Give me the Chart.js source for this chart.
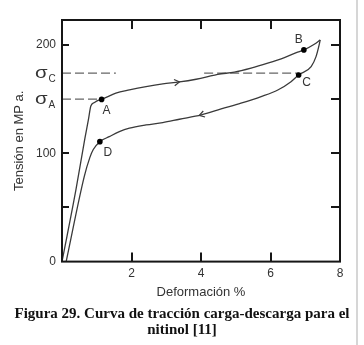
<!DOCTYPE html>
<html><head><meta charset="utf-8">
<script src="https://cdn.jsdelivr.net/npm/chart.js@4.4.1/dist/chart.umd.min.js"></script>
<style>html,body{margin:0;padding:0;background:#fff;overflow:hidden}</style>
</head><body>
<canvas id="c" width="364" height="345"></canvas>
<script>
// ---- data ----
const loadingX = [0, 0.40, 0.66, 0.76, 0.83, 0.935, 1.04, 1.14, 1.55, 1.94, 2.42, 2.90, 3.38, 3.86, 4.14, 4.48, 4.96, 5.44, 5.92, 6.40, 6.78, 6.96, 7.26, 7.43];
const loadingY = [0, 66.1, 114, 131, 143.7, 146.9, 148.8, 149.7, 155.4, 158.4, 161.5, 164, 165.8, 168.3, 170.2, 172.9, 174.8, 178.5, 183.1, 188.3, 193.3, 195.4, 200.6, 204.6];
const unloadX = [7.43, 7.40, 7.31, 7.17, 6.81, 6.59, 6.21, 5.73, 5.15, 4.58, 4.01, 3.38, 2.90, 2.42, 1.94, 1.65, 1.36, 1.09, 0.90, 0.80, 0.64, 0.12];
const unloadY = [204.6, 200, 189.2, 180, 172.3, 166.1, 158.4, 152.3, 146.2, 140.9, 135.4, 131.4, 128.3, 126.1, 123.1, 119.9, 115.3, 110.7, 103.5, 96, 78.4, 0];
const pointNames = ['A', 'B', 'C', 'D'];
const pointX = [1.14, 6.96, 6.81, 1.09];
const pointY = [149.7, 195.4, 172.3, 110.7];
const sigmaA = 150;
const sigmaC = 174;
const sigmaCSegments = [[0, 1.55], [4.09, 6.81]];
const xTickValues = [0, 2, 4, 6, 8];
const xFrameTicks = [2, 4, 6];
const yTickValues = [0, 100, 150, 174, 200];
const yLabelValues = [0, 100, 200];
const yLeftMarks = [50, 100, 200];
const yRightMarks = [50, 100, 150, 200];
const sigmaLabels = [{v: sigmaC, sub: 'C'}, {v: sigmaA, sub: 'A'}];
const arrowMarks = [{from: [2.90, 164], to: [3.38, 165.8]}, {from: [4.58, 140.9], to: [3.95, 134.9]}];
const xTitle = 'Deformación %';
const yTitle = 'Tensión en MP a.';
const caption = ['Figura 29. Curva de tracción carga-descarga para el', 'nitinol [11]'];

// ---- styles ----
const LINE = '#3a3a3a';
const TXT = '#333';
const SANS = '"Liberation Sans", Arial, sans-serif';
const labelOffsets = {A: [5, 11], B: [-5, -10], C: [8, 8], D: [8, 11]};

const pts = (xs, ys) => xs.map((x, i) => ({x, y: ys[i]}));
const sigmaCData = [];
sigmaCSegments.forEach((s, i) => {
  if (i > 0) sigmaCData.push({x: (sigmaCSegments[i-1][1] + s[0]) / 2, y: null});
  sigmaCData.push({x: s[0], y: sigmaC}, {x: s[1], y: sigmaC});
});

const decor = {
  id: 'decor',
  beforeDraw(chart) {
    const ctx = chart.ctx;
    ctx.save();
    ctx.fillStyle = '#fff';
    ctx.fillRect(0, 0, chart.width, chart.height);
    ctx.fillStyle = '#d6d6d6';
    ctx.fillRect(356, 0, 2, chart.height);
    ctx.restore();
  },
  afterDatasetsDraw(chart) {
    const {ctx, chartArea: a, scales: {x, y}} = chart;
    ctx.save();
    ctx.strokeStyle = '#161616';
    ctx.lineWidth = 2;
    ctx.strokeRect(a.left, a.top, a.right - a.left, a.bottom - a.top);
    ctx.beginPath();
    xFrameTicks.forEach(v => {
      const px = Math.round(x.getPixelForValue(v));
      ctx.moveTo(px, a.bottom); ctx.lineTo(px, a.bottom - 9);
      ctx.moveTo(px, a.top); ctx.lineTo(px, a.top + 9);
    });
    yLeftMarks.forEach(v => {
      const py = Math.round(y.getPixelForValue(v));
      ctx.moveTo(a.left, py); ctx.lineTo(a.left + 7, py);
    });
    yRightMarks.forEach(v => {
      const py = Math.round(y.getPixelForValue(v));
      ctx.moveTo(a.right, py); ctx.lineTo(a.right - 9, py);
    });
    ctx.stroke();

    // sigma labels on the y axis
    ctx.fillStyle = TXT;
    ctx.textAlign = 'left';
    ctx.textBaseline = 'alphabetic';
    sigmaLabels.forEach(s => {
      const py = y.getPixelForValue(s.v);
      ctx.save();
      ctx.translate(35, py + 4.5);
      ctx.scale(1.2, 1);
      ctx.font = '17px ' + SANS;
      ctx.fillText('σ', 0, 0);
      ctx.restore();
      ctx.font = '10px ' + SANS;
      ctx.fillText(s.sub, 48.5, py + 8.5);
    });

    // point labels
    ctx.font = '12px ' + SANS;
    ctx.textAlign = 'center';
    ctx.textBaseline = 'middle';
    pointNames.forEach((n, i) => {
      const o = labelOffsets[n];
      ctx.fillText(n, x.getPixelForValue(pointX[i]) + o[0], y.getPixelForValue(pointY[i]) + o[1]);
    });

    // direction arrows
    ctx.strokeStyle = LINE;
    ctx.lineWidth = 1.2;
    arrowMarks.forEach(m => {
      const x0 = x.getPixelForValue(m.from[0]), y0 = y.getPixelForValue(m.from[1]);
      const x1 = x.getPixelForValue(m.to[0]), y1 = y.getPixelForValue(m.to[1]);
      const ang = Math.atan2(y1 - y0, x1 - x0);
      const L = 6, h = 0.55;
      ctx.beginPath();
      ctx.moveTo(x1 - L * Math.cos(ang - h), y1 - L * Math.sin(ang - h));
      ctx.lineTo(x1, y1);
      ctx.lineTo(x1 - L * Math.cos(ang + h), y1 - L * Math.sin(ang + h));
      ctx.stroke();
    });
    ctx.restore();
  }
};

new Chart(document.getElementById('c'), {
  type: 'line',
  data: {
    datasets: [
      {label: 'points', data: pts(pointX, pointY), showLine: false, pointRadius: 2.8, pointBackgroundColor: '#000', pointBorderColor: '#000', pointBorderWidth: 0},
      {label: 'carga', data: pts(loadingX, loadingY), borderColor: LINE, borderWidth: 1.3, pointRadius: 0, cubicInterpolationMode: 'monotone', fill: false},
      {label: 'descarga', data: pts(unloadX, unloadY), borderColor: LINE, borderWidth: 1.3, pointRadius: 0, cubicInterpolationMode: 'monotone', fill: false},
      {label: 'sigmaA', data: [{x: 0, y: sigmaA}, {x: pointX[0], y: sigmaA}], borderColor: '#666', borderWidth: 1.2, borderDash: [9, 4], pointRadius: 0, tension: 0},
      {label: 'sigmaC', data: sigmaCData, borderColor: '#666', borderWidth: 1.2, borderDash: [9, 4], pointRadius: 0, tension: 0, spanGaps: false}
    ]
  },
  options: {
    responsive: false,
    animation: false,
    events: [],
    devicePixelRatio: 1,
    layout: {padding: {top: 20, left: 0, right: 0, bottom: 0}},
    plugins: {
      legend: {display: false},
      tooltip: {enabled: false},
      title: {
        display: true, position: 'bottom', text: caption, color: '#111',
        font: {family: '"Liberation Serif", "Times New Roman", serif', size: 15, weight: 'bold', lineHeight: 1.1},
        padding: {top: 4, bottom: 6.4}
      }
    },
    scales: {
      x: {
        type: 'linear', min: 0, max: 8,
        afterBuildTicks: s => { s.ticks = xTickValues.map(v => ({value: v})); },
        afterFit: s => { s.height = 40; },
        ticks: {callback: v => v === 0 ? '' : String(v), color: TXT, font: {family: SANS, size: 12}, padding: 5, maxRotation: 0, autoSkip: false},
        grid: {display: false, drawTicks: false},
        border: {display: false},
        title: {display: true, text: xTitle, color: TXT, font: {family: SANS, size: 13}, padding: {top: 0, bottom: 1.5}}
      },
      y: {
        type: 'linear', min: 0, max: 223,
        afterBuildTicks: s => { s.ticks = yTickValues.map(v => ({value: v})); },
        afterFit: s => { s.width = 62; },
        ticks: {callback: v => yLabelValues.includes(v) ? String(v) : '', color: TXT, font: {family: SANS, size: 12}, padding: 6, autoSkip: false},
        grid: {display: false, drawTicks: false},
        border: {display: false},
        title: {display: true, text: yTitle, color: TXT, font: {family: SANS, size: 13}, padding: {top: 12, bottom: 0}}
      },
      y2: {
        type: 'linear', position: 'right', display: true, min: 0, max: 1,
        afterFit: s => { s.width = 24; },
        ticks: {display: false},
        grid: {display: false, drawTicks: false},
        border: {display: false}
      }
    }
  },
  plugins: [decor]
});
</script>
</body></html>
